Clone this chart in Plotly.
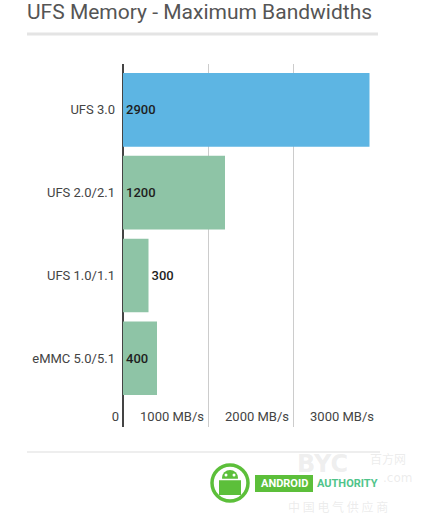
import plotly.graph_objects as go

categories = ['UFS 3.0', 'UFS 2.0/2.1', 'UFS 1.0/1.1', 'eMMC 5.0/5.1']
bandwidth = [2900, 1200, 300, 400]
bar_colors = ['#5db5e3', '#8ec4a6', '#8ec4a6', '#8ec4a6']
label_pos = ['inside', 'inside', 'outside', 'inside']
tick_vals = [0, 1000, 2000, 3000]
tick_text = ['0', '1000 MB/s', '2000 MB/s', '3000 MB/s']

W, H = 421, 516
L, R, T, B = 123, 43, 64, 89

fig = go.Figure()

fig.add_trace(go.Bar(
    x=bandwidth,
    y=categories,
    orientation='h',
    marker=dict(color=bar_colors, line=dict(width=0)),
    text=[str(v) for v in bandwidth],
    textposition=label_pos,
    insidetextanchor='start',
    textfont=dict(family='Roboto', size=13, color='#1e1e1e', weight=500),
    constraintext='none',
    cliponaxis=False,
    hoverinfo='skip',
))

fig.update_layout(
    width=W, height=H,
    margin=dict(l=L, r=R, t=T, b=B, pad=0),
    paper_bgcolor='white',
    plot_bgcolor='white',
    showlegend=False,
    bargap=0.11,
    font=dict(family='Roboto', color='#444444'),
    title=dict(
        text='UFS Memory - Maximum Bandwidths',
        x=27 / W, xanchor='left', xref='container',
        y=1 - 12 / H, yanchor='middle', yref='container',
        font=dict(family='Roboto', size=21, color='#555555'),
    ),
    xaxis=dict(
        range=[0, 3000],
        tickvals=tick_vals,
        ticktext=tick_text,
        ticklabelposition='inside left',
        ticklabeloverflow='allow',
        ticklabelstandoff=-3,
        ticklabelshift=-4,
        tickfont=dict(size=13, color='#444444'),
        showgrid=True, gridcolor='#cccccc', gridwidth=1,
        zeroline=True, zerolinecolor='#444444', zerolinewidth=1.5,
        showline=False, ticks='',
        fixedrange=True,
    ),
    yaxis=dict(
        range=[3.83, -0.554],
        tickfont=dict(size=13, color='#444444'),
        ticks='', ticklen=0,
        showgrid=False, zeroline=False, showline=False,
        ticklabelstandoff=7,
        fixedrange=True,
    ),
)

# helpers: page pixels -> paper coords
ph = H - T - B
pw = W - L - R
def px_x(v):
    return (v - L) / pw
def px_y(v):
    return (H - B - v) / ph

def note(x, y, text, font):
    fig.add_annotation(xref='paper', yref='paper', x=px_x(x), y=px_y(y),
                       xanchor='center', yanchor='middle',
                       text=text, showarrow=False, font=font)

def box(kind, x0, y0, x1, y1, fill, line=None):
    fig.add_shape(type=kind, xref='paper', yref='paper',
                  x0=px_x(x0), x1=px_x(x1), y0=px_y(y1), y1=px_y(y0),
                  line=line or dict(width=0), fillcolor=fill)

# header rule and footer rule
fig.add_shape(type='line', xref='paper', yref='paper',
              x0=px_x(27), x1=px_x(378), y0=px_y(34), y1=px_y(34),
              line=dict(color='#e4e4e4', width=3))
fig.add_shape(type='line', xref='paper', yref='paper',
              x0=px_x(27), x1=px_x(380), y0=px_y(452), y1=px_y(452),
              line=dict(color='#eeeeee', width=2))

# faint watermark
note(322, 464, '<b>BYC</b>', dict(family='DejaVu Sans', size=24, color='rgba(200,200,200,0.30)'))
note(388, 458, '百方网', dict(family='Noto Sans CJK SC', size=12, color='rgba(200,200,200,0.35)'))
note(397, 478, '.com', dict(family='DejaVu Sans', size=12, color='rgba(200,200,200,0.35)'))
note(338, 506, '中 国 电 气 供 应 商', dict(family='Noto Sans CJK SC', size=12, color='rgba(200,200,200,0.35)'))

# Android Authority logo
green = '#5cbf3a'
box('circle', 212, 465, 248, 501, 'white', dict(color=green, width=3.5))
box('circle', 222, 470, 238, 486, green)
box('rect', 219, 480, 241, 495, green)
fig.add_shape(type='line', xref='paper', yref='paper',
              x0=px_x(219), x1=px_x(241), y0=px_y(479.5), y1=px_y(479.5),
              line=dict(color='white', width=1.5))
box('circle', 224.5, 473.5, 227.5, 476.5, 'white')
box('circle', 232.5, 473.5, 235.5, 476.5, 'white')
box('rect', 255, 475, 313, 492, green)
note(284, 484, '<b>ANDROID</b>', dict(family='Roboto', size=11, color='white'))
note(347, 484, '<b>AUTHORITY</b>', dict(family='Roboto', size=11, color='#4fc48a'))

fig.write_html('out.html', config={'displayModeBar': False},
               post_script="document.body.style.margin='0';")
